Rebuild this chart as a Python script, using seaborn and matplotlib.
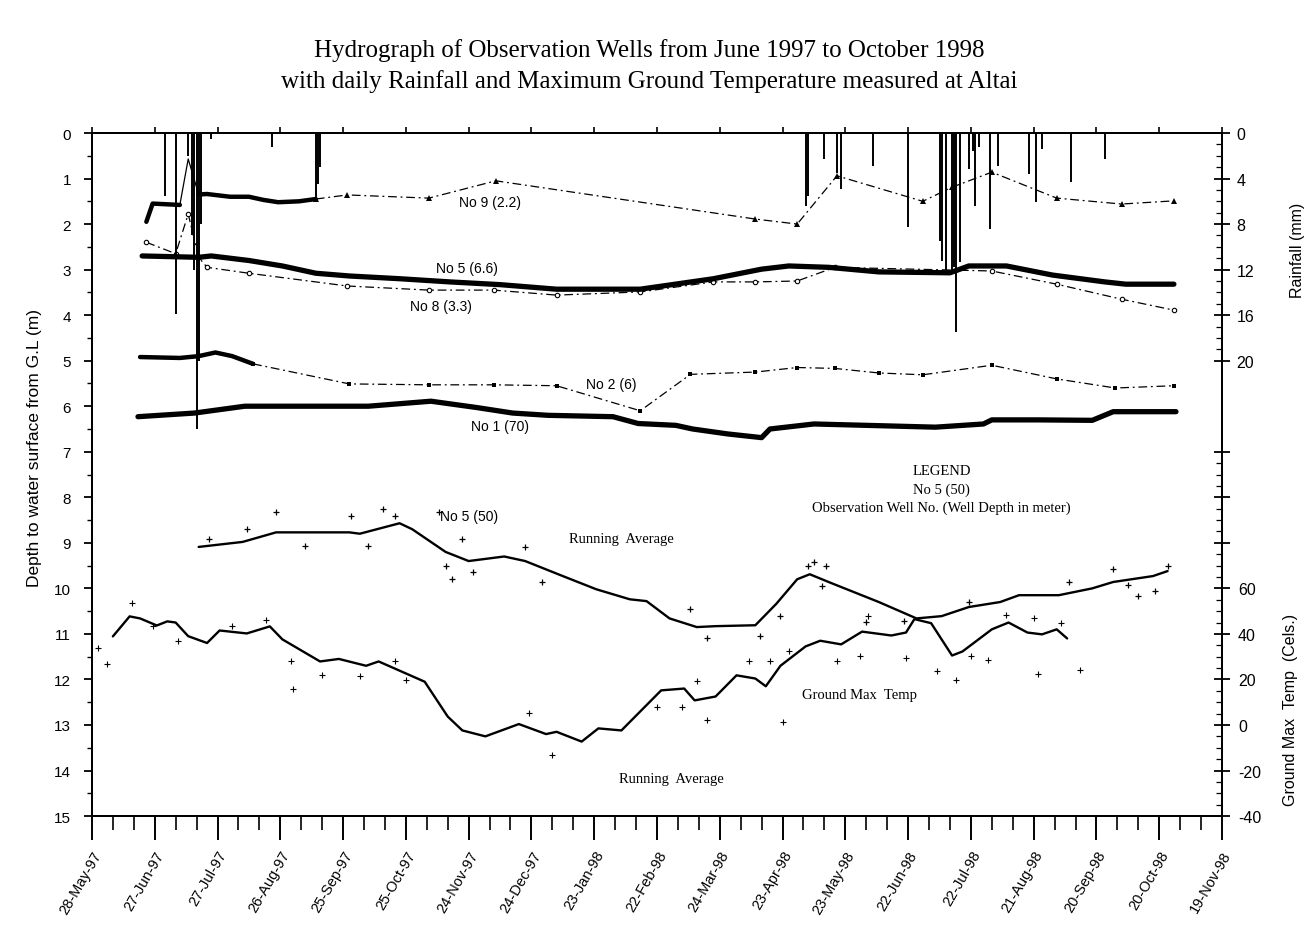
import numpy as np
import pandas as pd
import matplotlib
matplotlib.use("Agg")
import matplotlib.pyplot as plt
import matplotlib.dates as mdates
import seaborn as sns

# ------------------------------------------------------------------ data
tick_labels = ["28-May-97", "27-Jun-97", "27-Jul-97", "26-Aug-97", "25-Sep-97",
               "25-Oct-97", "24-Nov-97", "24-Dec-97", "23-Jan-98", "22-Feb-98",
               "24-Mar-98", "23-Apr-98", "23-May-98", "22-Jun-98", "22-Jul-98",
               "21-Aug-98", "20-Sep-98", "20-Oct-98", "19-Nov-98"]

# Well No 9 (2.2 m): logger record in two pieces, one manual spike, monthly survey
w9_logger_a_dates = ["1997-06-23", "1997-06-26", "1997-07-09"]
w9_logger_a_depth = [1.95, 1.55, 1.58]
w9_spike_dates = ["1997-07-13"]
w9_spike_depth = [0.57]
w9_logger_b_dates = ["1997-07-18", "1997-07-22", "1997-08-02", "1997-08-11", "1997-08-18",
                     "1997-08-25", "1997-09-04", "1997-09-12"]
w9_logger_b_depth = [1.35, 1.34, 1.40, 1.40, 1.47, 1.52, 1.50, 1.45]
w9_survey_dates = ["1997-09-27", "1997-11-05", "1997-12-07", "1998-04-10", "1998-04-30",
                   "1998-05-19", "1998-06-29", "1998-07-13", "1998-08-01", "1998-09-01",
                   "1998-10-02", "1998-10-27"]
w9_survey_depth = [1.36, 1.43, 1.05, 1.89, 2.00, 0.94, 1.50, 1.19, 0.86, 1.43, 1.56, 1.49]

# Well No 5 (6.6 m) logger
w5s_dates = ["1997-06-21", "1997-07-18", "1997-07-24", "1997-08-11", "1997-08-27",
             "1997-09-12", "1997-09-28", "1997-10-22", "1997-11-15", "1997-12-09",
             "1998-01-05", "1998-02-14", "1998-03-21", "1998-04-13", "1998-04-26",
             "1998-05-15", "1998-06-08", "1998-07-12", "1998-07-21", "1998-08-08",
             "1998-08-30", "1998-09-24", "1998-10-04", "1998-10-27"]
w5s_depth = [2.70, 2.73, 2.70, 2.80, 2.92, 3.08, 3.14, 3.20, 3.27, 3.33,
             3.43, 3.43, 3.20, 2.99, 2.92, 2.95, 3.05, 3.07, 2.92, 2.92,
             3.12, 3.27, 3.32, 3.32]

# Well No 8 (3.3 m) survey
w8_dates = ["1997-06-23", "1997-07-07", "1997-07-13", "1997-07-18", "1997-07-22",
            "1997-08-11", "1997-09-27", "1997-11-05", "1997-12-06", "1998-01-05",
            "1998-02-14", "1998-03-21", "1998-04-10", "1998-04-30", "1998-05-18",
            "1998-08-01", "1998-09-01", "1998-10-02", "1998-10-27"]
w8_depth = [2.40, 2.65, 1.78, 2.73, 2.95, 3.08, 3.36, 3.45, 3.45, 3.56,
            3.49, 3.27, 3.27, 3.25, 2.95, 3.03, 3.32, 3.65, 3.89]

# Well No 2 (6 m): logger then monthly survey
w2_logger_dates = ["1997-06-20", "1997-07-09", "1997-07-18", "1997-07-26", "1997-08-03",
                   "1997-08-13"]
w2_logger_depth = [4.92, 4.94, 4.90, 4.82, 4.90, 5.07]
w2_survey_dates = ["1997-09-28", "1997-11-05", "1997-12-06", "1998-01-05", "1998-02-14",
                   "1998-03-10", "1998-04-10", "1998-04-30", "1998-05-18", "1998-06-08",
                   "1998-06-29", "1998-08-01", "1998-09-01", "1998-09-29", "1998-10-27"]
w2_survey_depth = [5.51, 5.53, 5.53, 5.55, 6.10, 5.30, 5.25, 5.15, 5.17, 5.27,
                   5.31, 5.10, 5.40, 5.60, 5.55]

# Well No 1 (70 m) logger
w1_dates = ["1997-06-19", "1997-07-16", "1997-08-09", "1997-09-11", "1997-10-07",
            "1997-11-06", "1997-11-28", "1997-12-15", "1998-01-01", "1998-02-01",
            "1998-02-13", "1998-03-03", "1998-03-11", "1998-03-28", "1998-04-13",
            "1998-04-17", "1998-05-08", "1998-06-02", "1998-07-05", "1998-07-28",
            "1998-08-01", "1998-08-23", "1998-09-18", "1998-09-28", "1998-10-11",
            "1998-10-28"]
w1_depth = [6.23, 6.15, 6.00, 6.00, 6.00, 5.89, 6.03, 6.15, 6.20, 6.23,
            6.38, 6.42, 6.50, 6.61, 6.69, 6.50, 6.39, 6.42, 6.46, 6.39,
            6.30, 6.30, 6.31, 6.12, 6.12, 6.12]

# Well No 5 (50 m): running average and individual readings
w5d_avg_dates = ["1997-07-18", "1997-08-08", "1997-08-24", "1997-09-28", "1997-10-03",
                 "1997-10-22", "1997-10-28", "1997-11-13", "1997-11-24", "1997-12-11",
                 "1997-12-21", "1998-01-08", "1998-01-24", "1998-02-09", "1998-02-17",
                 "1998-02-28", "1998-03-13", "1998-03-22", "1998-04-10", "1998-04-20",
                 "1998-04-30", "1998-05-06", "1998-05-15", "1998-06-08", "1998-06-26",
                 "1998-07-08", "1998-07-21", "1998-08-05", "1998-08-14", "1998-09-02",
                 "1998-09-18", "1998-09-28", "1998-10-17", "1998-10-24"]
w5d_avg_depth = [9.09, 8.98, 8.77, 8.77, 8.80, 8.57, 8.70, 9.20, 9.40, 9.30,
                 9.40, 9.73, 10.02, 10.24, 10.28, 10.66, 10.85, 10.83, 10.81, 10.34,
                 9.80, 9.69, 9.86, 10.30, 10.66, 10.61, 10.41, 10.30, 10.15, 10.15,
                 10.00, 9.86, 9.73, 9.62]
w5d_raw_dates = ["1997-07-23", "1997-08-10", "1997-08-24", "1997-09-07", "1997-09-29",
                 "1997-10-07", "1997-10-14", "1997-10-20", "1997-11-10", "1997-11-13",
                 "1997-11-16", "1997-11-21", "1997-11-26", "1997-12-21", "1997-12-29",
                 "1998-03-10", "1998-03-18", "1998-04-12", "1998-04-22", "1998-05-05",
                 "1998-05-08", "1998-05-12", "1998-05-14", "1998-06-02", "1998-06-20",
                 "1998-07-21", "1998-09-07", "1998-09-28", "1998-10-05", "1998-10-10",
                 "1998-10-18", "1998-10-24"]
w5d_raw_depth = [8.92, 8.70, 8.32, 9.07, 8.41, 9.07, 8.26, 8.41, 8.33, 9.51,
                 9.80, 8.92, 9.64, 9.09, 9.86, 10.45, 11.10, 11.05, 10.60, 9.51,
                 9.42, 9.95, 9.51, 10.74, 10.72, 10.30, 9.86, 9.58, 9.93, 10.17,
                 10.06, 9.51]

# Ground maximum temperature at Altai (deg C): running average and daily readings
temp_avg_dates = ["1997-06-07", "1997-06-15", "1997-06-20", "1997-06-28", "1997-07-03",
                  "1997-07-07", "1997-07-13", "1997-07-22", "1997-07-28", "1997-08-10",
                  "1997-08-21", "1997-08-27", "1997-09-14", "1997-09-23", "1997-10-06",
                  "1997-10-12", "1997-11-03", "1997-11-14", "1997-11-21", "1997-12-02",
                  "1997-12-18", "1997-12-31", "1998-01-05", "1998-01-17", "1998-01-25",
                  "1998-02-05", "1998-02-24", "1998-03-07", "1998-03-12", "1998-03-22",
                  "1998-04-01", "1998-04-10", "1998-04-15", "1998-04-22", "1998-05-04",
                  "1998-05-11", "1998-05-21", "1998-05-31", "1998-06-14", "1998-06-21",
                  "1998-06-25", "1998-07-03", "1998-07-13", "1998-07-18", "1998-08-01",
                  "1998-08-09", "1998-08-18", "1998-08-25", "1998-09-01", "1998-09-06"]
temp_avg = [38.9, 47.7, 46.8, 43.7, 45.5, 45.0, 39.0, 36.0, 41.5, 40.2,
            43.3, 37.6, 27.9, 29.0, 26.0, 27.9, 19.0, 3.7, -2.4, -5.0,
            0.4, -4.0, -3.0, -7.3, -1.5, -2.4, 15.2, 16.0, 10.8, 12.5,
            21.8, 20.4, 17.0, 26.0, 34.5, 37.0, 35.4, 41.0, 39.3, 40.6,
            46.5, 44.7, 30.5, 32.3, 42.0, 45.0, 40.6, 39.8, 42.0, 38.0]
temp_raw_dates = ["1997-05-31", "1997-06-04", "1997-06-16", "1997-06-26", "1997-07-08",
                  "1997-08-03", "1997-08-19", "1997-08-31", "1997-09-01", "1997-09-15",
                  "1997-10-03", "1997-10-20", "1997-10-25", "1997-12-23", "1998-01-03",
                  "1998-02-22", "1998-03-06", "1998-03-13", "1998-03-18", "1998-04-07",
                  "1998-04-17", "1998-04-23", "1998-04-26", "1998-05-19", "1998-05-30",
                  "1998-06-03", "1998-06-21", "1998-07-06", "1998-07-15", "1998-07-22",
                  "1998-07-30", "1998-08-08", "1998-08-21", "1998-08-23", "1998-09-03",
                  "1998-09-12"]
temp_raw = [33.6, 27.0, 53.4, 43.3, 37.1, 43.3, 46.0, 27.9, 16.0, 21.8,
            21.3, 27.9, 19.6, 5.1, -13.4, 8.1, 8.1, 19.1, 2.0, 27.9,
            27.9, 1.5, 32.3, 27.9, 30.1, 47.7, 29.2, 23.5, 19.6, 30.1,
            28.4, 48.1, 46.8, 22.6, 44.7, 24.0]

# Daily rainfall at Altai (mm)
rain_dates = ["1997-07-02", "1997-07-07", "1997-07-13", "1997-07-15", "1997-07-16",
              "1997-07-17", "1997-07-18", "1997-07-19", "1997-07-24", "1997-08-22",
              "1997-09-12", "1997-09-13", "1997-09-14", "1998-05-04", "1998-05-05",
              "1998-05-13", "1998-05-19", "1998-05-21", "1998-06-05", "1998-06-22",
              "1998-07-07", "1998-07-08", "1998-07-10", "1998-07-13", "1998-07-14",
              "1998-07-15", "1998-07-17", "1998-07-21", "1998-07-23", "1998-07-24",
              "1998-07-26", "1998-07-31", "1998-08-04", "1998-08-19", "1998-08-22",
              "1998-08-25", "1998-09-08", "1998-09-24"]
rain_mm = [5.5, 15.9, 2.0, 9.0, 12.0, 26.0, 20.0, 8.0, 0.5, 1.2,
           5.8, 4.5, 3.0, 6.4, 5.5, 2.3, 3.5, 4.9, 2.9, 8.3,
           9.5, 11.2, 12.0, 12.0, 11.8, 17.5, 11.3, 3.2, 1.6, 6.4,
           1.2, 8.4, 2.9, 3.6, 6.1, 1.4, 4.3, 2.3]

# ------------------------------------------------------------------ helpers
def frame(dates, values, name="v"):
    return pd.DataFrame({"date": pd.to_datetime(dates), name: values})


def dnum(s):
    return mdates.date2num(pd.Timestamp(s))


# ------------------------------------------------------------------ style
sns.set_theme(style="ticks", rc={
    "axes.edgecolor": "black", "axes.linewidth": 1.4,
    "xtick.color": "black", "ytick.color": "black",
    "text.color": "black", "axes.labelcolor": "black",
})
plt.rcParams["font.family"] = ["Liberation Sans", "DejaVu Sans"]
SERIF = ["Liberation Serif", "DejaVu Serif"]
INK = "black"

fig = plt.figure(figsize=(13.06, 9.45), dpi=100)
fig.patch.set_facecolor("white")
ax = fig.add_axes([0.0704, 0.1354, 0.8653, 0.7228])
ax_rain = ax.twinx()
ax_temp = ax.twinx()

dashdot = (0, (7, 3, 1.5, 3))

# ---- rainfall hangs from the top axis
rain = frame(rain_dates, rain_mm, "mm")
ax_rain.vlines(rain["date"], 0, rain["mm"], color=INK, lw=1.4)

# ---- Well No 9 (2.2)
w9_a = frame(w9_logger_a_dates, w9_logger_a_depth, "depth")
w9_b = frame(w9_logger_b_dates, w9_logger_b_depth, "depth")
w9_spike = pd.concat([w9_a.tail(1), frame(w9_spike_dates, w9_spike_depth, "depth"),
                      w9_b.head(1)])
w9_survey = pd.concat([w9_b.tail(1), frame(w9_survey_dates, w9_survey_depth, "depth")])
sns.lineplot(data=w9_spike, x="date", y="depth", ax=ax, color=INK, lw=0.9,
             estimator=None, sort=False)
sns.lineplot(data=w9_survey, x="date", y="depth", ax=ax, color=INK, lw=0.9,
             linestyle=dashdot, marker="^", markersize=4, markeredgewidth=0,
             estimator=None, sort=False)
for seg in (w9_a, w9_b):
    sns.lineplot(data=seg, x="date", y="depth", ax=ax, color=INK, lw=3.2,
                 estimator=None, sort=False)

# ---- Well No 8 (3.3)
w8 = frame(w8_dates, w8_depth, "depth")
sns.lineplot(data=w8, x="date", y="depth", ax=ax, color=INK, lw=0.9,
             linestyle=dashdot, marker="o", markersize=3.2, markerfacecolor="white",
             markeredgecolor=INK, markeredgewidth=0.8, estimator=None, sort=False)

# ---- Well No 5 (6.6)
w5s = frame(w5s_dates, w5s_depth, "depth")
sns.lineplot(data=w5s, x="date", y="depth", ax=ax, color=INK, lw=3.8,
             estimator=None, sort=False)

# ---- Well No 2 (6)
w2_log = frame(w2_logger_dates, w2_logger_depth, "depth")
w2_sur = pd.concat([w2_log.tail(1), frame(w2_survey_dates, w2_survey_depth, "depth")])
sns.lineplot(data=w2_sur, x="date", y="depth", ax=ax, color=INK, lw=0.9,
             linestyle=dashdot, marker="s", markersize=2.8, markeredgewidth=0,
             estimator=None, sort=False)
sns.lineplot(data=w2_log, x="date", y="depth", ax=ax, color=INK, lw=3.2,
             estimator=None, sort=False)

# ---- Well No 1 (70)
w1 = frame(w1_dates, w1_depth, "depth")
sns.lineplot(data=w1, x="date", y="depth", ax=ax, color=INK, lw=3.8,
             estimator=None, sort=False)

# ---- Well No 5 (50): readings and running average
w5d_raw = frame(w5d_raw_dates, w5d_raw_depth, "depth")
w5d_avg = frame(w5d_avg_dates, w5d_avg_depth, "depth")
sns.scatterplot(data=w5d_raw, x="date", y="depth", ax=ax, color=INK, marker="+",
                s=22, linewidth=0.9)
sns.lineplot(data=w5d_avg, x="date", y="depth", ax=ax, color=INK, lw=1.7,
             estimator=None, sort=False)

# ---- ground maximum temperature
t_raw = frame(temp_raw_dates, temp_raw, "temp")
t_avg = frame(temp_avg_dates, temp_avg, "temp")
sns.scatterplot(data=t_raw, x="date", y="temp", ax=ax_temp, color=INK, marker="+",
                s=16, linewidth=0.8)
sns.lineplot(data=t_avg, x="date", y="temp", ax=ax_temp, color=INK, lw=1.7,
             estimator=None, sort=False)

# ------------------------------------------------------------------ axes
tick_dates = pd.date_range("1997-05-28", periods=len(tick_labels), freq="30D")
minor_dates = pd.date_range(tick_dates[0], tick_dates[-1], freq="10D")
tick_nums = mdates.date2num(tick_dates)
ax.set_xlim(tick_nums[0], tick_nums[-1])
ax.set_xticks(tick_nums)
ax.set_xticks(mdates.date2num(minor_dates), minor=True)
ax.set_xticklabels(tick_labels, rotation=60, ha="right", va="top",
                   rotation_mode="anchor", fontsize=10.5)
ax.tick_params(axis="x", which="major", direction="out", length=17, width=1.4,
               pad=6, top=False)
ax.tick_params(axis="x", which="minor", direction="out", length=10, width=1.2,
               top=False)

top = ax.secondary_xaxis("top")
top.set_xticks(tick_nums)
top.set_xticklabels([])
top.tick_params(axis="x", direction="out", length=4, width=1.2)

ax.set_ylim(15, 0)
ax.set_yticks(np.arange(0, 16, 1))
ax.set_yticks(np.arange(0.5, 15, 1), minor=True)
ax.set_yticklabels([str(v) for v in range(16)], fontsize=11)
ax.tick_params(axis="y", which="major", direction="out", length=6, width=1.3, pad=9)
ax.tick_params(axis="y", which="minor", direction="out", length=3.5, width=1.0)
ax.set_xlabel("")
ax.set_ylabel("Depth to water surface from G.L (m)", fontsize=12.5)
ax.yaxis.set_label_coords(-0.044, 0.54)

ax_rain.set_ylim(60, 0)
ax_rain.set_yticks(np.arange(0, 21, 4))
ax_rain.set_yticks(np.arange(0, 21, 1), minor=True)
ax_rain.set_yticklabels([str(v) for v in range(0, 21, 4)], fontsize=11.5)
ax_rain.tick_params(axis="y", which="major", direction="inout", length=11, width=1.3,
                    pad=5)
ax_rain.tick_params(axis="y", which="minor", direction="in", length=4, width=0.9)
ax_rain.set_xlabel("")
ax_rain.set_ylabel("Rainfall (mm)", fontsize=11.5)
ax_rain.yaxis.set_label_coords(1.060, 0.83)

temp_ticks = np.arange(-40, 121, 20)
ax_temp.set_ylim(-40, 260)
ax_temp.set_yticks(temp_ticks)
ax_temp.set_yticks(np.arange(-40, 121, 5), minor=True)
ax_temp.set_yticklabels([str(v) if v <= 60 else "" for v in temp_ticks], fontsize=11.5)
ax_temp.tick_params(axis="y", which="major", direction="inout", length=11, width=1.3,
                    pad=6)
ax_temp.tick_params(axis="y", which="minor", direction="in", length=4, width=0.9)
ax_temp.set_xlabel("")
ax_temp.set_ylabel("Ground Max  Temp  (Cels.)", fontsize=11.5)
ax_temp.yaxis.set_label_coords(1.054, 0.157)

for a in (ax, ax_rain, ax_temp):
    for sp in a.spines.values():
        sp.set_visible(True)
        sp.set_color(INK)
        sp.set_linewidth(1.4)

# ------------------------------------------------------------------ labels
well_labels = [
    ("1997-12-04", 1.52, "No 9 (2.2)"),
    ("1997-11-23", 2.96, "No 5 (6.6)"),
    ("1997-11-11", 3.80, "No 8 (3.3)"),
    ("1998-01-31", 5.51, "No 2 (6)"),
    ("1997-12-09", 6.44, "No 1 (70)"),
    ("1997-11-24", 8.41, "No 5 (50)"),
]
for day, depth, text in well_labels:
    ax.text(dnum(day), depth, text, ha="center", va="center", fontsize=10)

serif_labels = [
    ("1998-02-05", 8.90, "Running  Average"),
    ("1998-03-01", 14.17, "Running  Average"),
    ("1998-05-30", 12.32, "Ground Max  Temp"),
    ("1998-07-08", 7.42, "LEGEND"),
    ("1998-07-08", 7.82, "No 5 (50)"),
    ("1998-07-08", 8.21, "Observation Well No. (Well Depth in meter)"),
]
for day, depth, text in serif_labels:
    ax.text(dnum(day), depth, text, ha="center", va="center", fontsize=10.5,
            family=SERIF)

fig.text(0.497, 0.947, "Hydrograph of Observation Wells from June 1997 to October 1998",
         ha="center", va="center", fontsize=18, family=SERIF)
fig.text(0.497, 0.914, "with daily Rainfall and Maximum Ground Temperature measured at Altai",
         ha="center", va="center", fontsize=18, family=SERIF)

fig.savefig("out.png", dpi=100, facecolor="white")
